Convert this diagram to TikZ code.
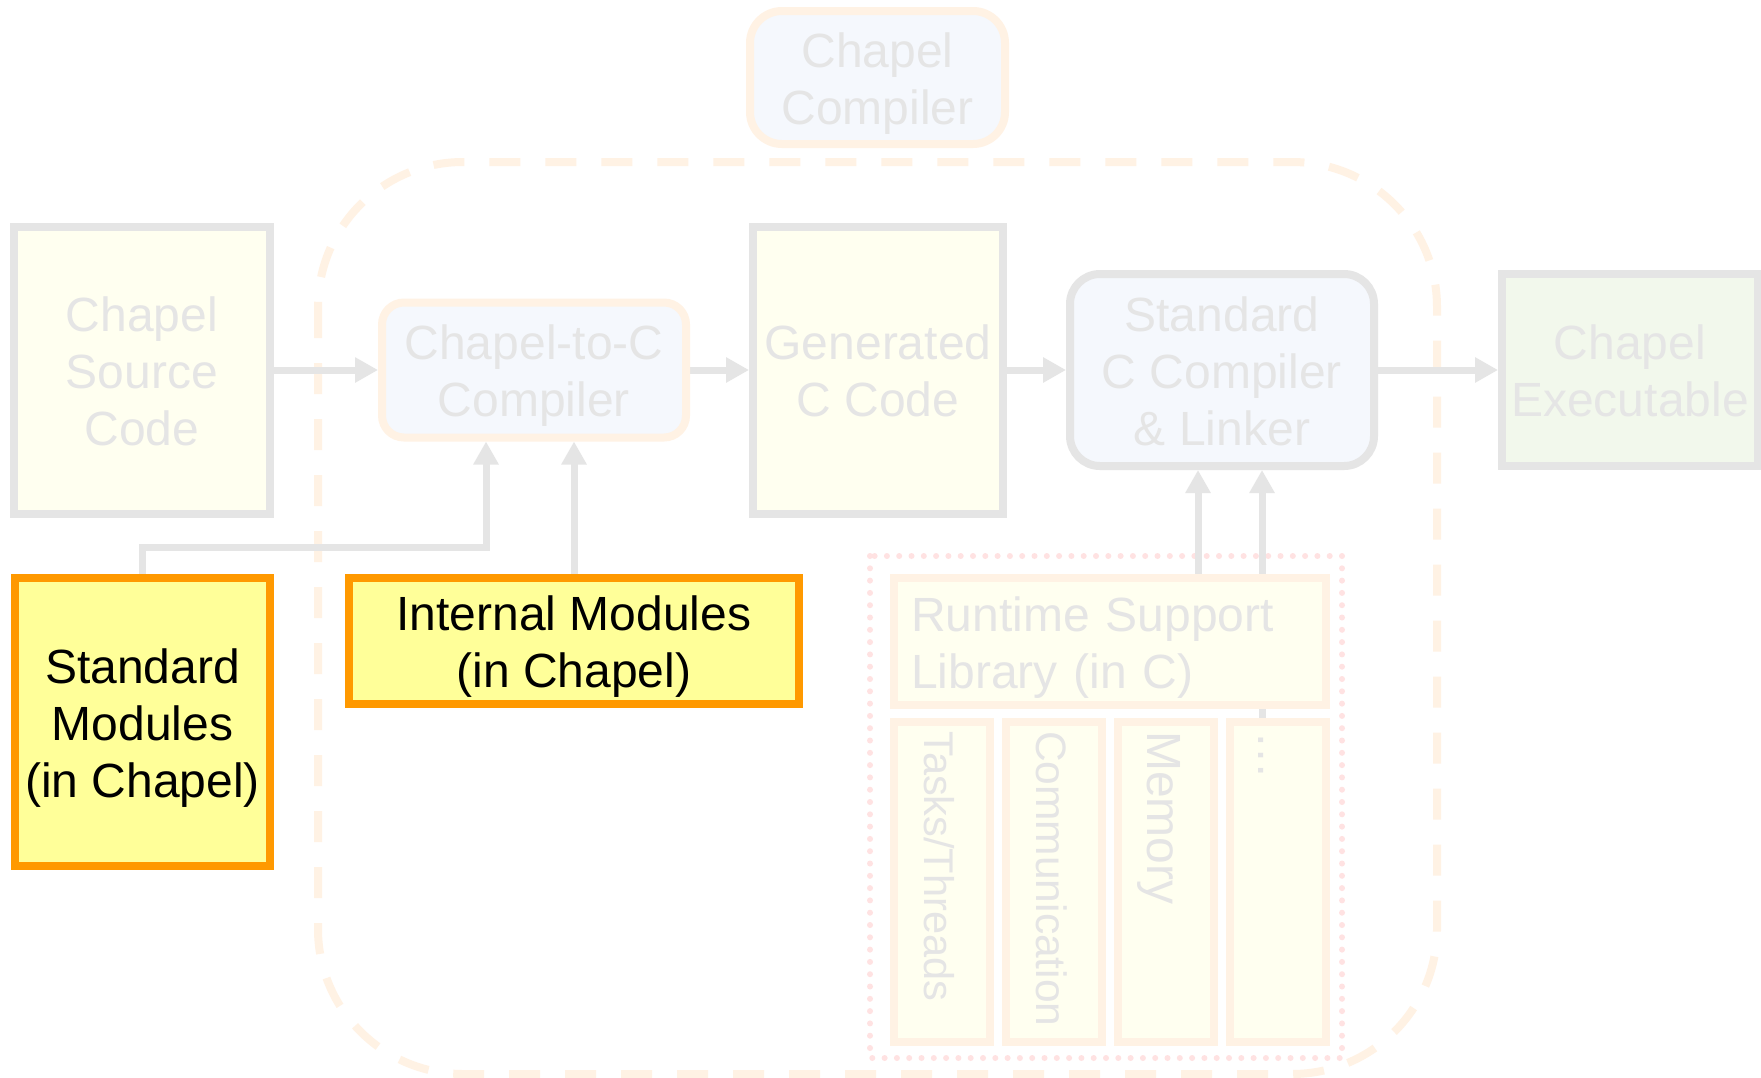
\documentclass[tikz,border=0pt]{standalone}
\usepackage{fontspec}
\setmainfont{Liberation Sans}
\usetikzlibrary{arrows.meta}

\pgfdeclarelayer{bg}
\pgfsetlayers{bg,main}

\definecolor{lgray}{RGB}{229,229,229}
\definecolor{lorange}{RGB}{255,242,228}
\definecolor{lblue}{RGB}{245,248,253}
\definecolor{lyellow}{RGB}{255,255,240}
\definecolor{lgreen}{RGB}{242,248,236}
\definecolor{lpink}{RGB}{255,226,226}
\definecolor{modorange}{RGB}{255,153,0}
\definecolor{modyellow}{RGB}{255,255,153}

% line strut: keeps every text line 57pt tall, sitting a little low
\newcommand\lnstrut{\rule[-10.5pt]{0pt}{57pt}}

\begin{document}
\begin{tikzpicture}[x=1pt,y=-1pt,
  every node/.style={font=\fontsize{48}{57}\selectfont, inner sep=0pt, align=center},
  faded/.style={draw=lgray, line width=8pt, text=lgray},
  modbox/.style={draw=modorange, fill=modyellow, line width=8pt, text=black},
  vlabel/.style={text=lgray, rotate=-90, anchor=base west},
  arr/.style={draw=lgray, line width=7pt, -{Triangle[length=23pt,width=24pt]}}
]
\useasboundingbox (0,0) rectangle (1761,1077);

% compiler stages
\node[faded, draw=lorange, fill=lblue, rounded corners=32pt,
      minimum width=255pt, minimum height=133pt] (chc) at (877.5,77.5)
      {\lnstrut Chapel\\\lnstrut Compiler};
\node[faded, fill=lyellow, minimum width=256pt, minimum height=287pt] (src) at (142,370)
      {\lnstrut Chapel\\\lnstrut Source\\\lnstrut Code};
\node[faded, draw=lorange, fill=lblue, rounded corners=22pt,
      minimum width=304pt, minimum height=135pt] (c2c) at (534,370)
      {\lnstrut Chapel-to-C\\\lnstrut Compiler};
\node[faded, fill=lyellow, minimum width=250pt, minimum height=287pt] (gen) at (878,370)
      {\lnstrut Generated\\\lnstrut C Code};
\node[faded, fill=lblue, rounded corners=30pt,
      minimum width=304pt, minimum height=192pt] (stdc) at (1222,370)
      {\lnstrut Standard\\\lnstrut C Compiler\\\lnstrut \& Linker};
\node[faded, fill=lgreen, minimum width=256pt, minimum height=192pt] (exe) at (1630,370)
      {\lnstrut Chapel\\\lnstrut Executable};

% module sources
\node[modbox, minimum width=255pt, minimum height=288pt] (sm) at (142.5,722)
      {\lnstrut Standard\\\lnstrut Modules\\\lnstrut (in Chapel)};
\node[modbox, minimum width=450pt, minimum height=126pt] (im) at (574,641)
      {\lnstrut Internal Modules\\\lnstrut (in Chapel)};

% runtime library and its parts
\node[faded, draw=lorange, fill=lyellow, minimum width=432pt, minimum height=127pt,
      text width=398pt, align=left] (rt) at (1110,641.5)
      {\lnstrut Runtime Support\\\lnstrut Library (in C)};
\foreach \i/\cx in {1/942,2/1054,3/1166,4/1278}
  \node[faded, draw=lorange, fill=lyellow, minimum width=96pt, minimum height=320pt]
        (rt\i) at (\cx,882) {};
\node[vlabel, font=\fontsize{41.5}{57}\selectfont] (rt1t) at (924,731) {Tasks/Threads};
\node[vlabel, font=\fontsize{42.5}{57}\selectfont] (rt2t) at (1036,731) {Communication};
\node[vlabel, font=\fontsize{48}{57}\selectfont] (rt3t) at (1147,731) {Memory};
\node[vlabel, font=\fontsize{48}{57}\selectfont] (rt4t) at (1258,731) {…};

\begin{pgfonlayer}{bg}
  \fill[white] (0,0) rectangle (1761,1077);
  % compiler boundary
  \draw[lorange, line width=8pt, dash pattern=on 31pt off 25pt, rounded corners=145pt]
    (318,162) rectangle (1437,1074);
  % runtime boundary
  \draw[lpink, line width=6pt, line cap=round, dash pattern=on 0pt off 12.3pt]
    (870,556) rectangle (1342,1058);
  % flow
  \draw[arr] (src.east) -- (c2c.west);
  \draw[arr] (c2c.east) -- (gen.west);
  \draw[arr] (gen.east) -- (stdc.west);
  \draw[arr] (stdc.east) -- (exe.west);
  \draw[arr] (im.north) -- (im.north |- c2c.south);
  \coordinate (c2cin) at ([xshift=-48pt]c2c.south);
  \draw[arr] (sm.north) -- ++(0,-27) -| (c2cin);
  \coordinate (rta) at ([xshift=88pt]rt.north);
  \draw[arr] (rta) -- (rta |- stdc.south);
  \coordinate (rtb) at ([xshift=-16pt]rt4.north);
  \draw[arr] (rtb) -- (rtb |- stdc.south);
\end{pgfonlayer}
\end{tikzpicture}
\end{document}
